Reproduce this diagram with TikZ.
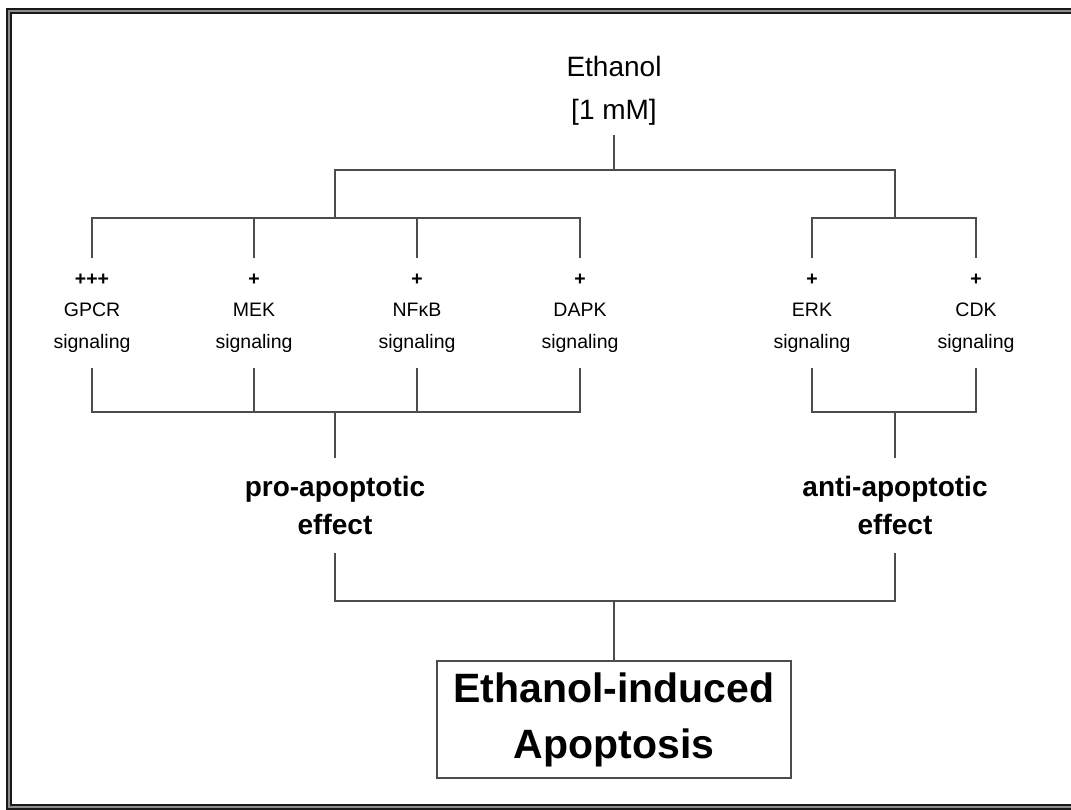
\documentclass[tikz,border=0pt]{standalone}
\usepackage{fontspec}
\setmainfont{Liberation Sans}
\usepackage{tikz}
\usetikzlibrary{positioning, calc}

\begin{document}
\begin{tikzpicture}[x=1pt, y=-1pt,
    wire/.style={draw=black!70, line width=1.8pt},
    sig/.style={align=center, minimum height=110pt, inner sep=0pt, font=\fontsize{19.5}{31.5}\selectfont},
    effect/.style={align=center, minimum height=95pt, inner sep=0pt, font=\fontsize{28}{38}\selectfont\bfseries},
    result/.style={draw=black!70, line width=1.8pt, align=center, minimum width=354pt, minimum height=117pt, inner sep=0pt, font=\fontsize{41}{56}\selectfont\bfseries}]
    \useasboundingbox (0,0) rectangle (1071,810);
    \clip (0,0) rectangle (1071,810);
    \draw[line width=2pt, draw=black!90, double=black!45, double distance=2pt] (8.5,11) rectangle (1090,806.5);

    \node[align=center, minimum height=88pt, inner sep=0pt, font=\fontsize{28}{43}\selectfont] (eth) at (614,91) {Ethanol\\{[1 mM]}};

    \node[sig] (gpcr) at (92,313) {\textbf{+++}\\GPCR\\signaling};
    \node[sig] (mek) at (254,313) {\textbf{+}\\MEK\\signaling};
    \node[sig] (nfkb) at (417,313) {\textbf{+}\\NFκB\\signaling};
    \node[sig] (dapk) at (580,313) {\textbf{+}\\DAPK\\signaling};
    \node[sig] (erk) at (812,313) {\textbf{+}\\ERK\\signaling};
    \node[sig] (cdk) at (976,313) {\textbf{+}\\CDK\\signaling};

    \node[effect] (pro) at (335,505.5) {pro-apoptotic\\effect};
    \node[effect] (anti) at (895,505.5) {anti-apoptotic\\effect};

    \node[result] (apop) at (614,719.5) {Ethanol-induced\\Apoptosis};

    \coordinate (split) at (614,170);
    \coordinate (proup) at (335,218);
    \coordinate (antiup) at (895,218);
    \coordinate (prodown) at (335,412);
    \coordinate (antidown) at (895,412);
    \coordinate (join) at (614,601);

    \draw[wire] (eth.south) -- (split);
    \draw[wire] (proup) -- (proup |- split) -- (antiup |- split) -- (antiup);

    \draw[wire] (gpcr.north) -- (gpcr.north |- proup) -- (dapk.north |- proup) -- (dapk.north);
    \draw[wire] (mek.north) -- (mek.north |- proup);
    \draw[wire] (nfkb.north) -- (nfkb.north |- proup);
    \draw[wire] (erk.north) -- (erk.north |- antiup) -- (cdk.north |- antiup) -- (cdk.north);

    \draw[wire] (gpcr.south) -- (gpcr.south |- prodown) -- (dapk.south |- prodown) -- (dapk.south);
    \draw[wire] (mek.south) -- (mek.south |- prodown);
    \draw[wire] (nfkb.south) -- (nfkb.south |- prodown);
    \draw[wire] (erk.south) -- (erk.south |- antidown) -- (cdk.south |- antidown) -- (cdk.south);

    \draw[wire] (prodown) -- (pro.north);
    \draw[wire] (antidown) -- (anti.north);

    \draw[wire] (pro.south) -- (pro.south |- join) -- (anti.south |- join) -- (anti.south);
    \draw[wire] (join) -- (apop.north);
\end{tikzpicture}
\end{document}
